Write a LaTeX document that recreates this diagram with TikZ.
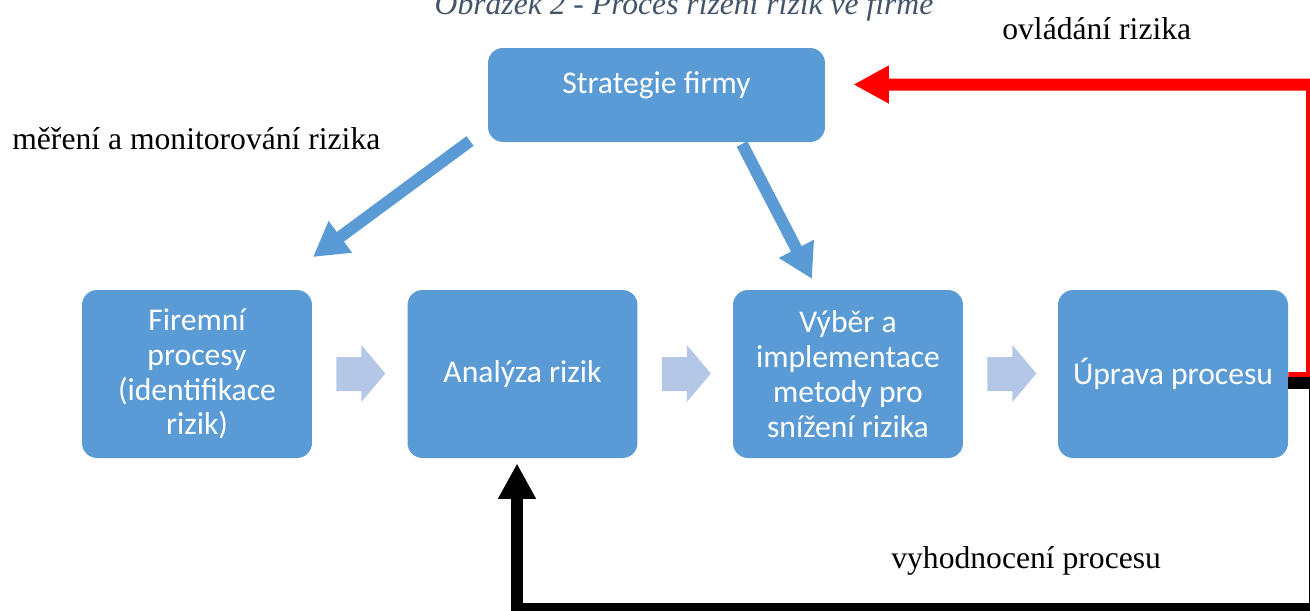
\documentclass[tikz,border=0pt]{standalone}
\usepackage{fontspec}
\setmainfont{Liberation Serif}
\newfontfamily\boxfont{Carlito}
\usetikzlibrary{arrows.meta,calc}
\definecolor{boxblue}{HTML}{5B9BD5}
\definecolor{chevc}{HTML}{B4C7E7}
\definecolor{titlec}{HTML}{44546A}
\definecolor{rline}{HTML}{FF0000}
\begin{document}
\begin{tikzpicture}[x=0.02cm,y=-0.02cm,
  stepbox/.style={fill=boxblue, draw=none, rounded corners=0.3cm, minimum width=4.6cm, minimum height=3.36cm,
    text=white, align=center, inner sep=0pt, font=\boxfont\fontsize{18}{19.8}\selectfont},
  lbl/.style={font=\fontsize{18}{21}\selectfont, inner sep=0pt, anchor=base west},
  bluearrow/.style={draw=boxblue, line width=0.24cm, -{Triangle[length=0.68cm,width=0.74cm]}},
  chevron/.style={fill=chevc, draw=none},
  feedback/.style={line width=0.24cm, -{Triangle[length=0.71cm,width=0.71cm]}}
]
\useasboundingbox (0,0) rectangle (1310,610);
\clip (0,0) rectangle (1310,610);

% title (cut at top)
\node[font=\itshape\fontsize{18}{21}\selectfont, text=titlec, inner sep=0pt, anchor=base] (title) at (684,14) {Obrázek 2 - Proces řízení rizik ve firmě};

% boxes
\node[stepbox, minimum width=6.74cm, minimum height=1.88cm, text depth=0.9em, text height=0.7em] (strat) at (656.5,95) {Strategie firmy};
\node[stepbox] (fir) at (197,374) {Firemní\\procesy\\(identifikace\\rizik)};
\node[stepbox] (ana) at (522.5,374) {Analýza rizik};
\node[stepbox] (vyb) at (848,374) {Výběr a\\implementace\\metody pro\\snížení rizika};
\node[stepbox] (up) at (1173,374) {Úprava procesu};

% chevrons
\foreach \b in {fir,ana,vyb}{
  \fill[chevron] ($(\b.east)+(24,-17)$) -- ++(25,0) -- ++(0,-12) -- ++(24,28.5) -- ++(-24,28.5) -- ++(0,-11) -- ++(-25,0) -- cycle;
}

% blue arrows from strategy
\coordinate (s1) at (470,141);
\coordinate (e1) at (313,257);
\coordinate (s2) at (742,144);
\coordinate (e2) at (812,279);
\draw[bluearrow] (s1) -- (e1);
\draw[bluearrow] (s2) -- (e2);

% feedback loops
\draw[feedback, draw=rline] ($(up.east)+(0,4)$) -- (1312,378) -- (1312,84.5) -- ($(strat.east)+(28,-10.5)$);
\draw[feedback, draw=black] ($(up.east)+(0,9)$) -- (1315,383) -- (1315,609) -- (517,609) -- ($(ana.south)+(-5.5,5)$);

% labels
\node[lbl] (l1) at (12,149) {měření a monitorování rizika};
\node[lbl] (l2) at (1002,39) {ovládání rizika};
\node[lbl] (l3) at (891,568) {vyhodnocení procesu};
\end{tikzpicture}
\end{document}
